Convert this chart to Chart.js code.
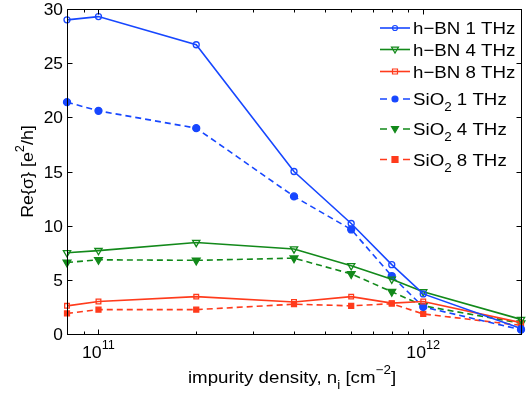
<!DOCTYPE html>
<html>
<head>
<meta charset="utf-8">
<script src="https://cdn.jsdelivr.net/npm/chart.js@4.4.1/dist/chart.umd.min.js"></script>
<style>
html,body{margin:0;padding:0;background:#fff;}
#c{display:block;}
</style>
</head>
<body>
<canvas id="c" width="530" height="394"></canvas>
<script>
// ---- data ----
const densities = [8e10, 1e11, 2e11, 4e11, 6e11, 8e11, 1e12, 2e12];
const hbn1THz  = [29.0, 29.3, 26.7, 15.0, 10.2, 6.4, 3.7, 0.5];
const hbn4THz  = [7.5, 7.7, 8.45, 7.85, 6.3, 5.05, 3.9, 1.35];
const hbn8THz  = [2.6, 3.0, 3.45, 2.95, 3.45, 2.85, 3.0, 1.05];
const sio1THz  = [21.4, 20.6, 19.0, 12.7, 9.65, 5.35, 2.5, 0.4];
const sio4THz  = [6.6, 6.85, 6.8, 7.0, 5.55, 3.9, 2.6, 1.0];
const sio8THz  = [1.9, 2.25, 2.25, 2.75, 2.6, 2.8, 1.85, 0.8];
const seriesLabels = ['h\u2212BN 1 THz','h\u2212BN 4 THz','h\u2212BN 8 THz','SiO_2 1 THz','SiO_2 4 THz','SiO_2 8 THz'];
const yTicks = [0, 5, 10, 15, 20, 25, 30];
const xMajorTicks = [1e11, 1e12];
const xMinorTicks = [9e10, 2e11, 3e11, 4e11, 5e11, 6e11, 7e11, 8e11, 9e11];

const BLUE = '#1747ff', GREEN = '#12891a', RED = '#ff3b1c';
const FONT = '"Liberation Sans", Arial, Helvetica, sans-serif';

function ds(label, data, color, style, filled, dashed, rot, r) {
  return {
    label: label,
    data: densities.map((x, i) => ({x: x, y: data[i]})),
    borderColor: color,
    backgroundColor: filled ? color : 'rgba(0,0,0,0)',
    pointBackgroundColor: filled ? color : 'rgba(0,0,0,0)',
    pointBorderColor: color,
    pointBorderWidth: 1.3,
    pointStyle: style,
    pointRotation: rot,
    pointRadius: r,
    pointHoverRadius: r,
    borderWidth: 1.6,
    borderDash: dashed ? [6, 4] : [],
    fill: false,
    tension: 0,
    clip: false
  };
}

const datasets = [
  ds(seriesLabels[0], hbn1THz, BLUE, 'circle', false, false, 0, 3),
  ds(seriesLabels[1], hbn4THz, GREEN, 'triangle', false, false, 180, 4.2),
  ds(seriesLabels[2], hbn8THz, RED, 'rect', false, false, 0, 3.3),
  ds(seriesLabels[3], sio1THz, BLUE, 'circle', true, true, 0, 3.5),
  ds(seriesLabels[4], sio4THz, GREEN, 'triangle', true, true, 180, 4.5),
  ds(seriesLabels[5], sio8THz, RED, 'rect', true, true, 0, 3.5)
];

function drawRich(ctx, parts, x, y, size, align, sx) {
  sx = sx || 1;
  const small = size * 0.72;
  let w = 0;
  parts.forEach(p => {
    ctx.font = (p.mode === 'n' ? size : small) + 'px ' + FONT;
    p.w = ctx.measureText(p.t).width;
    w += p.w;
  });
  ctx.save();
  ctx.translate(x, y);
  ctx.scale(sx, 1);
  ctx.textAlign = 'left';
  let cx = align === 'center' ? -w / 2 : (align === 'right' ? -w : 0);
  parts.forEach(p => {
    ctx.font = (p.mode === 'n' ? size : small) + 'px ' + FONT;
    let dy = p.mode === 'sub' ? size * 0.38 : (p.mode === 'sup' ? -size * 0.55 : 0);
    ctx.fillText(p.t, cx, dy);
    cx += p.w;
  });
  ctx.restore();
}

function parseLabel(s) {
  const i = s.indexOf('_');
  if (i < 0) return [{t: s, mode: 'n'}];
  return [{t: s.slice(0, i), mode: 'n'}, {t: s[i + 1], mode: 'sub'}, {t: s.slice(i + 2), mode: 'n'}];
}

function drawMarker(ctx, d, x, y, r) {
  ctx.save();
  ctx.setLineDash([]);
  ctx.lineWidth = 1.2;
  ctx.strokeStyle = d.pointBorderColor;
  ctx.fillStyle = d.pointBackgroundColor;
  ctx.beginPath();
  if (d.pointStyle === 'circle') {
    ctx.arc(x, y, r, 0, Math.PI * 2);
  } else if (d.pointStyle === 'rect') {
    ctx.rect(x - r, y - r, 2 * r, 2 * r);
  } else {
    ctx.moveTo(x - r, y - r * 0.7);
    ctx.lineTo(x + r, y - r * 0.7);
    ctx.lineTo(x, y + r);
    ctx.closePath();
  }
  ctx.fill();
  ctx.stroke();
  ctx.restore();
}

const axesPlugin = {
  id: 'matlabAxes',
  afterDraw(chart) {
    const ctx = chart.ctx;
    const a = chart.chartArea;
    const xs = chart.scales.x, ys = chart.scales.y;
    ctx.save();
    ctx.strokeStyle = '#000';
    ctx.lineWidth = 1;
    ctx.setLineDash([]);
    const L = Math.round(a.left) + 0.5, R = Math.round(a.right) + 0.5;
    const T = Math.round(a.top) + 0.5, B = Math.round(a.bottom) + 0.5;
    ctx.strokeRect(L, T, R - L, B - T);
    ctx.beginPath();
    yTicks.forEach(v => {
      const py = Math.round(ys.getPixelForValue(v)) + 0.5;
      ctx.moveTo(L, py); ctx.lineTo(L + 5, py);
      ctx.moveTo(R, py); ctx.lineTo(R - 5, py);
    });
    xMajorTicks.forEach(v => {
      const px = Math.round(xs.getPixelForValue(v)) + 0.5;
      ctx.moveTo(px, B); ctx.lineTo(px, B - 5);
      ctx.moveTo(px, T); ctx.lineTo(px, T + 5);
    });
    xMinorTicks.forEach(v => {
      const px = Math.round(xs.getPixelForValue(v)) + 0.5;
      ctx.moveTo(px, B); ctx.lineTo(px, B - 3);
      ctx.moveTo(px, T); ctx.lineTo(px, T + 3);
    });
    ctx.stroke();

    ctx.fillStyle = '#000';
    ctx.textBaseline = 'alphabetic';
    // y tick labels
    yTicks.forEach(v => {
      drawRich(ctx, [{t: String(v), mode: 'n'}], a.left - 4, ys.getPixelForValue(v) + 6, 17, 'right', 1.02);
    });
    // x tick labels
    xMajorTicks.forEach(v => {
      const e = Math.round(Math.log10(v));
      drawRich(ctx, [{t: '10', mode: 'n'}, {t: String(e), mode: 'sup'}], xs.getPixelForValue(v), a.bottom + 24, 17, 'center', 1.04);
    });
    // x axis title
    drawRich(ctx, [{t: 'impurity density, n', mode: 'n'}, {t: 'i', mode: 'sub'}, {t: ' [cm', mode: 'n'}, {t: '\u22122', mode: 'sup'}, {t: ']', mode: 'n'}],
      (a.left + a.right) / 2 - 2, a.bottom + 49, 17, 'center', 1.1);
    // y axis title
    ctx.save();
    ctx.translate(33, (a.top + a.bottom) / 2);
    ctx.rotate(-Math.PI / 2);
    drawRich(ctx, [{t: 'Re{\u03c3} [e', mode: 'n'}, {t: '2', mode: 'sup'}, {t: '/h]', mode: 'n'}], 0, 0, 17, 'center', 1.05);
    ctx.restore();

    // legend
    const lx0 = 380, lx1 = 410, tx = 413;
    const rows = [28, 49.5, 71.5, 99, 129, 159.5];
    chart.data.datasets.forEach((d, i) => {
      const y = rows[i];
      ctx.save();
      ctx.strokeStyle = d.borderColor;
      ctx.lineWidth = 1.6;
      ctx.setLineDash(d.borderDash.length ? [7, 16, 7] : []);
      ctx.beginPath();
      ctx.moveTo(lx0, y); ctx.lineTo(lx1, y);
      ctx.stroke();
      ctx.restore();
      const filled = d.pointBackgroundColor !== 'rgba(0,0,0,0)';
      drawMarker(ctx, d, (lx0 + lx1) / 2, y, d.pointStyle === 'triangle' ? 3.5 : (filled ? 3 : 2.5));
      ctx.fillStyle = '#000';
      drawRich(ctx, parseLabel(d.label), tx, y + 6, 17, 'left', 1.1);
    });
    ctx.restore();
  }
};

new Chart(document.getElementById('c'), {
  type: 'line',
  data: { datasets: datasets },
  options: {
    responsive: false,
    animation: false,
    devicePixelRatio: 1,
    layout: { padding: { left: 67, right: 9, top: 9, bottom: 60 } },
    plugins: { legend: { display: false }, tooltip: { enabled: false } },
    scales: {
      x: { type: 'logarithmic', min: 8e10, max: 2e12, display: false },
      y: { type: 'linear', min: 0, max: 30, display: false }
    }
  },
  plugins: [axesPlugin]
});
</script>
</body>
</html>
